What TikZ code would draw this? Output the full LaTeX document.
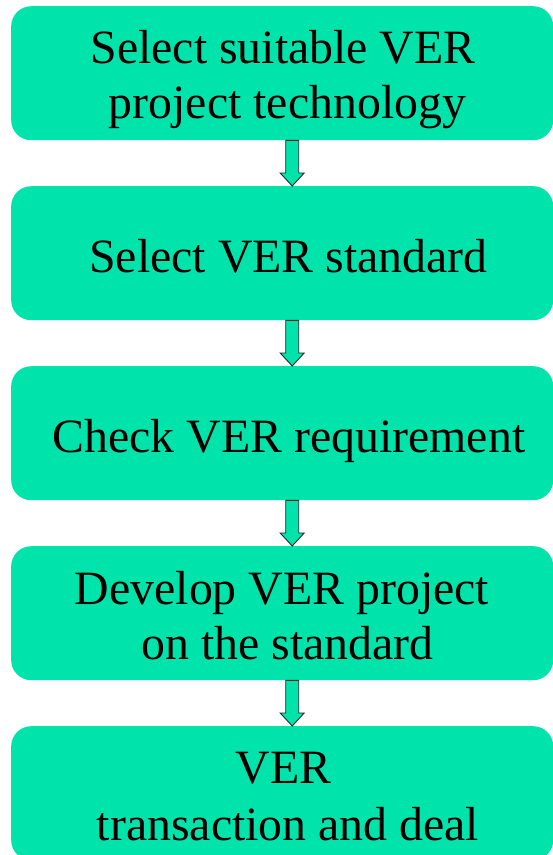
\documentclass[tikz,border=0pt]{standalone}
\usepackage{fontspec}
\setmainfont{Liberation Serif}
\usetikzlibrary{calc}
\definecolor{boxgreen}{RGB}{0,228,171}
\tikzset{
  stepbox/.style={draw=none, fill=boxgreen, rounded corners=20pt, minimum width=542pt, minimum height=134pt, inner sep=0pt, anchor=north west},
  lbl/.style={anchor=base, inner sep=0pt, font=\fontsize{47.8}{56}\selectfont},
  flowarrow/.style={fill=boxgreen, draw=black!85, line width=0.9pt, line join=miter}
}
\newcommand{\fatarrow}[2]{%
  \path (#1.south) ++(10,0) coordinate (#1s);
  \path (#2.north) ++(10,0) coordinate (#2n);
  \draw[flowarrow] ($(#1s)+(-6.5,0)$) -- ($(#2n)+(-6.5,13)$) -- ($(#2n)+(-12,13)$) -- (#2n) -- ($(#2n)+(12,13)$) -- ($(#2n)+(6.5,13)$) -- ($(#1s)+(6.5,0)$) -- cycle;}
\begin{document}
\begin{tikzpicture}[x=1pt,y=1pt]
\useasboundingbox (0,0) rectangle (553,-855);
\clip (0,0) rectangle (553,-855);
\node[stepbox] (b1) at (11,-6) {};
\node[stepbox] (b2) at (11,-186) {};
\node[stepbox] (b3) at (11,-366) {};
\node[stepbox] (b4) at (11,-546) {};
\node[stepbox] (b5) at (11,-726) {};
\node[lbl] (t1a) at (283,-63.5) {Select suitable VER};
\node[lbl] (t1b) at (287.5,-118.5) {project technology};
\node[lbl] (t2) at (288.5,-272.5) {Select VER standard};
\node[lbl] (t3) at (289,-452.5) {Check VER requirement};
\node[lbl] (t4a) at (282,-604.5) {Develop VER project};
\node[lbl] (t4b) at (287.5,-659.5) {on the standard};
\node[lbl] (t5a) at (283.5,-783.5) {VER};
\node[lbl] (t5b) at (288,-840.5) {transaction and deal};
\fatarrow{b1}{b2}
\fatarrow{b2}{b3}
\fatarrow{b3}{b4}
\fatarrow{b4}{b5}
\end{tikzpicture}
\end{document}
